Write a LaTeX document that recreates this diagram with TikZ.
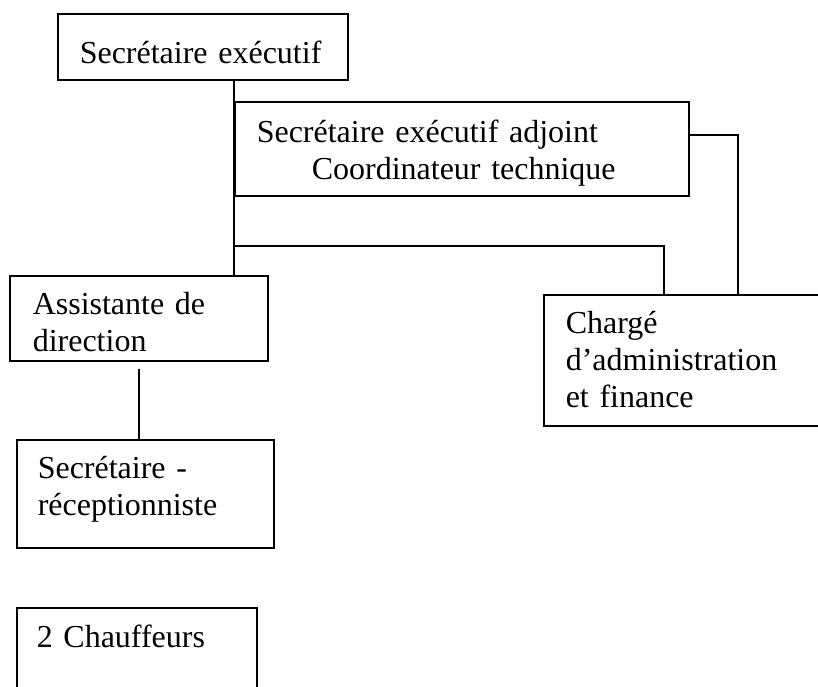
\documentclass[tikz,border=0pt]{standalone}
\usepackage{fontspec}
\setmainfont{Liberation Serif}
\usetikzlibrary{positioning}

\begin{document}
\begin{tikzpicture}[x=1pt,y=1pt,line width=1.5pt,
    box/.style={draw,rectangle,inner sep=0pt,anchor=north west},
    lbl/.style={inner sep=0pt,anchor=base west,align=left,text width=520pt,
      font=\fontsize{32}{37}\selectfont}]
  \useasboundingbox (0,0) rectangle (818,-686);
  \clip (0,0) rectangle (818,-686);

  % boxes
  \node[box,minimum width=290pt,minimum height=66pt]  (exec)   at (57,-13)  {};
  \node[box,minimum width=454pt,minimum height=94pt]  (adj)    at (234,-101) {};
  \node[box,minimum width=258pt,minimum height=85pt]  (assist) at (9,-275)  {};
  \node[box,minimum width=300pt,minimum height=131pt] (charge) at (543,-294) {};
  \node[box,minimum width=257pt,minimum height=108pt] (recep)  at (16,-439) {};
  \node[box,minimum width=240pt,minimum height=100pt] (chauf)  at (16,-607) {};

  % texts
  \node[lbl] (execT)   at (79,-63)   {Secrétaire exécutif};
  \node[lbl] (adjT)    at (256,-142) {Secrétaire exécutif adjoint\\\hspace*{55pt}Coordinateur technique};
  \node[lbl] (assistT) at (32,-314)  {Assistante de\\direction};
  \node[lbl] (chargeT) at (565,-333) {Chargé\\d’administration\\et finance};
  \node[lbl] (recepT)  at (37,-478)  {Secrétaire -\\réceptionniste};
  \node[lbl] (chaufT)  at (36,-647)  {2 Chauffeurs};

  % links
  \coordinate (c1) at (738,-135);
  \coordinate (c2) at (664,-246);
  \draw (exec.south -| adj.west) -- (assist.north -| adj.west);
  \draw (adj.east |- c1) -- (c1) -- (c1 |- charge.north);
  \draw (adj.west |- c2) -- (c2) -- (c2 |- charge.north);
  \draw ([yshift=-7pt]assist.south) -- (assist.south |- recep.north);
\end{tikzpicture}
\end{document}
